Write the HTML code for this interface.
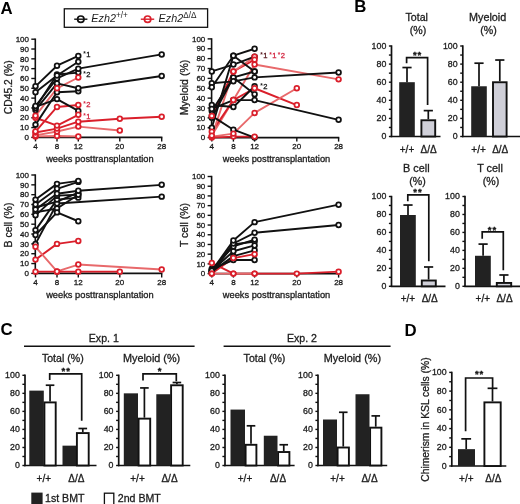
<!DOCTYPE html>
<html><head><meta charset="utf-8"><style>
html,body{margin:0;padding:0;background:#fff;width:520px;height:504px;overflow:hidden}
svg{display:block;font-family:"Liberation Sans", sans-serif;will-change:transform;filter:blur(0.3px)}
</style></head><body>
<svg width="520" height="504" viewBox="0 0 520 504">
<rect width="520" height="504" fill="#fff"/>
<text x="0.5" y="14.4" font-size="16.8" font-weight="bold" fill="#000">A</text>
<text x="354.3" y="12.0" font-size="16.8" font-weight="bold" fill="#000">B</text>
<text x="0.6" y="335.2" font-size="16.8" font-weight="bold" fill="#000">C</text>
<text x="404.6" y="335.6" font-size="16.8" font-weight="bold" fill="#000">D</text>
<line x1="35.3" y1="38.5" x2="35.3" y2="138.1" stroke="#111" stroke-width="1.6" />
<line x1="31.3" y1="137.4" x2="35.3" y2="137.4" stroke="#111" stroke-width="1.4" />
<text x="29" y="140.1" font-size="8" text-anchor="end" fill="#1c1c1c" stroke="#1c1c1c" stroke-width="0.3" >0</text>
<line x1="31.3" y1="127.58" x2="35.3" y2="127.58" stroke="#111" stroke-width="1.4" />
<text x="29" y="130.28" font-size="8" text-anchor="end" fill="#1c1c1c" stroke="#1c1c1c" stroke-width="0.3" >10</text>
<line x1="31.3" y1="117.76" x2="35.3" y2="117.76" stroke="#111" stroke-width="1.4" />
<text x="29" y="120.46" font-size="8" text-anchor="end" fill="#1c1c1c" stroke="#1c1c1c" stroke-width="0.3" >20</text>
<line x1="31.3" y1="107.94" x2="35.3" y2="107.94" stroke="#111" stroke-width="1.4" />
<text x="29" y="110.64" font-size="8" text-anchor="end" fill="#1c1c1c" stroke="#1c1c1c" stroke-width="0.3" >30</text>
<line x1="31.3" y1="98.12" x2="35.3" y2="98.12" stroke="#111" stroke-width="1.4" />
<text x="29" y="100.82" font-size="8" text-anchor="end" fill="#1c1c1c" stroke="#1c1c1c" stroke-width="0.3" >40</text>
<line x1="31.3" y1="88.3" x2="35.3" y2="88.3" stroke="#111" stroke-width="1.4" />
<text x="29" y="91" font-size="8" text-anchor="end" fill="#1c1c1c" stroke="#1c1c1c" stroke-width="0.3" >50</text>
<line x1="31.3" y1="78.48" x2="35.3" y2="78.48" stroke="#111" stroke-width="1.4" />
<text x="29" y="81.18" font-size="8" text-anchor="end" fill="#1c1c1c" stroke="#1c1c1c" stroke-width="0.3" >60</text>
<line x1="31.3" y1="68.66" x2="35.3" y2="68.66" stroke="#111" stroke-width="1.4" />
<text x="29" y="71.36" font-size="8" text-anchor="end" fill="#1c1c1c" stroke="#1c1c1c" stroke-width="0.3" >70</text>
<line x1="31.3" y1="58.84" x2="35.3" y2="58.84" stroke="#111" stroke-width="1.4" />
<text x="29" y="61.54" font-size="8" text-anchor="end" fill="#1c1c1c" stroke="#1c1c1c" stroke-width="0.3" >80</text>
<line x1="31.3" y1="49.02" x2="35.3" y2="49.02" stroke="#111" stroke-width="1.4" />
<text x="29" y="51.72" font-size="8" text-anchor="end" fill="#1c1c1c" stroke="#1c1c1c" stroke-width="0.3" >90</text>
<line x1="31.3" y1="39.2" x2="35.3" y2="39.2" stroke="#111" stroke-width="1.4" />
<text x="29" y="41.9" font-size="8" text-anchor="end" fill="#1c1c1c" stroke="#1c1c1c" stroke-width="0.3" >100</text>
<line x1="34.6" y1="137.4" x2="162.4" y2="137.4" stroke="#111" stroke-width="1.7" />
<line x1="35.5" y1="137.4" x2="35.5" y2="141.4" stroke="#111" stroke-width="1.4" />
<text x="35.5" y="148.7" font-size="8" text-anchor="middle" fill="#1c1c1c" stroke="#1c1c1c" stroke-width="0.3" >4</text>
<line x1="57" y1="137.4" x2="57" y2="141.4" stroke="#111" stroke-width="1.4" />
<text x="57" y="148.7" font-size="8" text-anchor="middle" fill="#1c1c1c" stroke="#1c1c1c" stroke-width="0.3" >8</text>
<line x1="78.3" y1="137.4" x2="78.3" y2="141.4" stroke="#111" stroke-width="1.4" />
<text x="78.3" y="148.7" font-size="8" text-anchor="middle" fill="#1c1c1c" stroke="#1c1c1c" stroke-width="0.3" >12</text>
<line x1="119.8" y1="137.4" x2="119.8" y2="141.4" stroke="#111" stroke-width="1.4" />
<text x="119.8" y="148.7" font-size="8" text-anchor="middle" fill="#1c1c1c" stroke="#1c1c1c" stroke-width="0.3" >20</text>
<line x1="161.7" y1="137.4" x2="161.7" y2="141.4" stroke="#111" stroke-width="1.4" />
<text x="161.7" y="148.7" font-size="8" text-anchor="middle" fill="#1c1c1c" stroke="#1c1c1c" stroke-width="0.3" >28</text>
<text x="99.9" y="161.8" font-size="9.3" text-anchor="middle" fill="#1c1c1c" stroke="#1c1c1c" stroke-width="0.3" >weeks posttransplantation</text>
<text transform="translate(12.2,87.3) rotate(-90)" font-size="10.3" text-anchor="middle" fill="#1c1c1c" stroke="#1c1c1c" stroke-width="0.3">CD45.2 (%)</text>
<path d="M35.5,115.8 L57,88.3 L78.3,77.5" fill="none" stroke="#e8696b" stroke-width="1.9" stroke-linejoin="round"/>
<path d="M35.5,131.51 L57,106.96 L78.3,104.99" fill="none" stroke="#da1f2b" stroke-width="1.9" stroke-linejoin="round"/>
<path d="M35.5,117.76 L57,125.62 L78.3,114.81" fill="none" stroke="#da1f2b" stroke-width="1.9" stroke-linejoin="round"/>
<path d="M35.5,132.49 L57,128.56 L78.3,121.69 L119.8,118.74 L161.7,116.78" fill="none" stroke="#da1f2b" stroke-width="1.9" stroke-linejoin="round"/>
<path d="M35.5,135.44 L57,131.51 L78.3,126.6 L119.8,130.53" fill="none" stroke="#e8696b" stroke-width="1.9" stroke-linejoin="round"/>
<path d="M35.5,136.42 L57,135.93 L78.3,136.42" fill="none" stroke="#e8696b" stroke-width="1.9" stroke-linejoin="round"/>
<path d="M35.5,86.34 L57,65.71 L78.3,55.89" fill="none" stroke="#111" stroke-width="1.9" stroke-linejoin="round"/>
<path d="M35.5,92.23 L57,75.53 L78.3,61.79" fill="none" stroke="#111" stroke-width="1.9" stroke-linejoin="round"/>
<path d="M35.5,105.98 L57,78.48 L78.3,68.66 L161.7,54.42" fill="none" stroke="#111" stroke-width="1.9" stroke-linejoin="round"/>
<path d="M35.5,107.94 L57,74.55 L78.3,72.59" fill="none" stroke="#111" stroke-width="1.9" stroke-linejoin="round"/>
<path d="M35.5,109.9 L57,83.39 L78.3,88.3 L161.7,76.03" fill="none" stroke="#111" stroke-width="1.9" stroke-linejoin="round"/>
<path d="M35.5,106.96 L57,99.1 L78.3,110.89" fill="none" stroke="#111" stroke-width="1.9" stroke-linejoin="round"/>
<path d="M35.5,124.63 L57,92.23 L78.3,91.25" fill="none" stroke="#111" stroke-width="1.9" stroke-linejoin="round"/>
<circle cx="35.5" cy="124.63" r="2.35" fill="#fff" stroke="#111" stroke-width="1.75"/>
<circle cx="57" cy="92.23" r="2.35" fill="#fff" stroke="#111" stroke-width="1.75"/>
<circle cx="78.3" cy="91.25" r="2.35" fill="#fff" stroke="#111" stroke-width="1.75"/>
<circle cx="35.5" cy="106.96" r="2.35" fill="#fff" stroke="#111" stroke-width="1.75"/>
<circle cx="57" cy="99.1" r="2.35" fill="#fff" stroke="#111" stroke-width="1.75"/>
<circle cx="78.3" cy="110.89" r="2.35" fill="#fff" stroke="#111" stroke-width="1.75"/>
<circle cx="35.5" cy="109.9" r="2.35" fill="#fff" stroke="#111" stroke-width="1.75"/>
<circle cx="57" cy="83.39" r="2.35" fill="#fff" stroke="#111" stroke-width="1.75"/>
<circle cx="78.3" cy="88.3" r="2.35" fill="#fff" stroke="#111" stroke-width="1.75"/>
<circle cx="161.7" cy="76.03" r="2.35" fill="#fff" stroke="#111" stroke-width="1.75"/>
<circle cx="35.5" cy="107.94" r="2.35" fill="#fff" stroke="#111" stroke-width="1.75"/>
<circle cx="57" cy="74.55" r="2.35" fill="#fff" stroke="#111" stroke-width="1.75"/>
<circle cx="78.3" cy="72.59" r="2.35" fill="#fff" stroke="#111" stroke-width="1.75"/>
<circle cx="35.5" cy="105.98" r="2.35" fill="#fff" stroke="#111" stroke-width="1.75"/>
<circle cx="57" cy="78.48" r="2.35" fill="#fff" stroke="#111" stroke-width="1.75"/>
<circle cx="78.3" cy="68.66" r="2.35" fill="#fff" stroke="#111" stroke-width="1.75"/>
<circle cx="161.7" cy="54.42" r="2.35" fill="#fff" stroke="#111" stroke-width="1.75"/>
<circle cx="35.5" cy="92.23" r="2.35" fill="#fff" stroke="#111" stroke-width="1.75"/>
<circle cx="57" cy="75.53" r="2.35" fill="#fff" stroke="#111" stroke-width="1.75"/>
<circle cx="78.3" cy="61.79" r="2.35" fill="#fff" stroke="#111" stroke-width="1.75"/>
<circle cx="35.5" cy="86.34" r="2.35" fill="#fff" stroke="#111" stroke-width="1.75"/>
<circle cx="57" cy="65.71" r="2.35" fill="#fff" stroke="#111" stroke-width="1.75"/>
<circle cx="78.3" cy="55.89" r="2.35" fill="#fff" stroke="#111" stroke-width="1.75"/>
<circle cx="35.5" cy="136.42" r="2.35" fill="#fff" stroke="#da1f2b" stroke-width="1.75"/>
<circle cx="57" cy="135.93" r="2.35" fill="#fff" stroke="#da1f2b" stroke-width="1.75"/>
<circle cx="78.3" cy="136.42" r="2.35" fill="#fff" stroke="#da1f2b" stroke-width="1.75"/>
<circle cx="35.5" cy="135.44" r="2.35" fill="#fff" stroke="#da1f2b" stroke-width="1.75"/>
<circle cx="57" cy="131.51" r="2.35" fill="#fff" stroke="#da1f2b" stroke-width="1.75"/>
<circle cx="78.3" cy="126.6" r="2.35" fill="#fff" stroke="#da1f2b" stroke-width="1.75"/>
<circle cx="119.8" cy="130.53" r="2.35" fill="#fff" stroke="#da1f2b" stroke-width="1.75"/>
<circle cx="35.5" cy="132.49" r="2.35" fill="#fff" stroke="#da1f2b" stroke-width="1.75"/>
<circle cx="57" cy="128.56" r="2.35" fill="#fff" stroke="#da1f2b" stroke-width="1.75"/>
<circle cx="78.3" cy="121.69" r="2.35" fill="#fff" stroke="#da1f2b" stroke-width="1.75"/>
<circle cx="119.8" cy="118.74" r="2.35" fill="#fff" stroke="#da1f2b" stroke-width="1.75"/>
<circle cx="161.7" cy="116.78" r="2.35" fill="#fff" stroke="#da1f2b" stroke-width="1.75"/>
<circle cx="35.5" cy="117.76" r="2.35" fill="#fff" stroke="#da1f2b" stroke-width="1.75"/>
<circle cx="57" cy="125.62" r="2.35" fill="#fff" stroke="#da1f2b" stroke-width="1.75"/>
<circle cx="78.3" cy="114.81" r="2.35" fill="#fff" stroke="#da1f2b" stroke-width="1.75"/>
<circle cx="35.5" cy="131.51" r="2.35" fill="#fff" stroke="#da1f2b" stroke-width="1.75"/>
<circle cx="57" cy="106.96" r="2.35" fill="#fff" stroke="#da1f2b" stroke-width="1.75"/>
<circle cx="78.3" cy="104.99" r="2.35" fill="#fff" stroke="#da1f2b" stroke-width="1.75"/>
<circle cx="35.5" cy="115.8" r="2.35" fill="#fff" stroke="#da1f2b" stroke-width="1.75"/>
<circle cx="57" cy="88.3" r="2.35" fill="#fff" stroke="#da1f2b" stroke-width="1.75"/>
<circle cx="78.3" cy="77.5" r="2.35" fill="#fff" stroke="#da1f2b" stroke-width="1.75"/>
<line x1="211.6" y1="38.2" x2="211.6" y2="138.3" stroke="#111" stroke-width="1.6" />
<line x1="207.6" y1="137.6" x2="211.6" y2="137.6" stroke="#111" stroke-width="1.4" />
<text x="205.3" y="140.3" font-size="8" text-anchor="end" fill="#1c1c1c" stroke="#1c1c1c" stroke-width="0.3" >0</text>
<line x1="207.6" y1="127.73" x2="211.6" y2="127.73" stroke="#111" stroke-width="1.4" />
<text x="205.3" y="130.43" font-size="8" text-anchor="end" fill="#1c1c1c" stroke="#1c1c1c" stroke-width="0.3" >10</text>
<line x1="207.6" y1="117.86" x2="211.6" y2="117.86" stroke="#111" stroke-width="1.4" />
<text x="205.3" y="120.56" font-size="8" text-anchor="end" fill="#1c1c1c" stroke="#1c1c1c" stroke-width="0.3" >20</text>
<line x1="207.6" y1="107.99" x2="211.6" y2="107.99" stroke="#111" stroke-width="1.4" />
<text x="205.3" y="110.69" font-size="8" text-anchor="end" fill="#1c1c1c" stroke="#1c1c1c" stroke-width="0.3" >30</text>
<line x1="207.6" y1="98.12" x2="211.6" y2="98.12" stroke="#111" stroke-width="1.4" />
<text x="205.3" y="100.82" font-size="8" text-anchor="end" fill="#1c1c1c" stroke="#1c1c1c" stroke-width="0.3" >40</text>
<line x1="207.6" y1="88.25" x2="211.6" y2="88.25" stroke="#111" stroke-width="1.4" />
<text x="205.3" y="90.95" font-size="8" text-anchor="end" fill="#1c1c1c" stroke="#1c1c1c" stroke-width="0.3" >50</text>
<line x1="207.6" y1="78.38" x2="211.6" y2="78.38" stroke="#111" stroke-width="1.4" />
<text x="205.3" y="81.08" font-size="8" text-anchor="end" fill="#1c1c1c" stroke="#1c1c1c" stroke-width="0.3" >60</text>
<line x1="207.6" y1="68.51" x2="211.6" y2="68.51" stroke="#111" stroke-width="1.4" />
<text x="205.3" y="71.21" font-size="8" text-anchor="end" fill="#1c1c1c" stroke="#1c1c1c" stroke-width="0.3" >70</text>
<line x1="207.6" y1="58.64" x2="211.6" y2="58.64" stroke="#111" stroke-width="1.4" />
<text x="205.3" y="61.34" font-size="8" text-anchor="end" fill="#1c1c1c" stroke="#1c1c1c" stroke-width="0.3" >80</text>
<line x1="207.6" y1="48.77" x2="211.6" y2="48.77" stroke="#111" stroke-width="1.4" />
<text x="205.3" y="51.47" font-size="8" text-anchor="end" fill="#1c1c1c" stroke="#1c1c1c" stroke-width="0.3" >90</text>
<line x1="207.6" y1="38.9" x2="211.6" y2="38.9" stroke="#111" stroke-width="1.4" />
<text x="205.3" y="41.6" font-size="8" text-anchor="end" fill="#1c1c1c" stroke="#1c1c1c" stroke-width="0.3" >100</text>
<line x1="210.9" y1="137.6" x2="339.3" y2="137.6" stroke="#111" stroke-width="1.7" />
<line x1="211.8" y1="137.6" x2="211.8" y2="141.6" stroke="#111" stroke-width="1.4" />
<text x="211.8" y="148.9" font-size="8" text-anchor="middle" fill="#1c1c1c" stroke="#1c1c1c" stroke-width="0.3" >4</text>
<line x1="233.4" y1="137.6" x2="233.4" y2="141.6" stroke="#111" stroke-width="1.4" />
<text x="233.4" y="148.9" font-size="8" text-anchor="middle" fill="#1c1c1c" stroke="#1c1c1c" stroke-width="0.3" >8</text>
<line x1="254.6" y1="137.6" x2="254.6" y2="141.6" stroke="#111" stroke-width="1.4" />
<text x="254.6" y="148.9" font-size="8" text-anchor="middle" fill="#1c1c1c" stroke="#1c1c1c" stroke-width="0.3" >12</text>
<line x1="296.8" y1="137.6" x2="296.8" y2="141.6" stroke="#111" stroke-width="1.4" />
<text x="296.8" y="148.9" font-size="8" text-anchor="middle" fill="#1c1c1c" stroke="#1c1c1c" stroke-width="0.3" >20</text>
<line x1="338.6" y1="137.6" x2="338.6" y2="141.6" stroke="#111" stroke-width="1.4" />
<text x="338.6" y="148.9" font-size="8" text-anchor="middle" fill="#1c1c1c" stroke="#1c1c1c" stroke-width="0.3" >28</text>
<text x="276.5" y="162" font-size="9.3" text-anchor="middle" fill="#1c1c1c" stroke="#1c1c1c" stroke-width="0.3" >weeks posttransplantation</text>
<text transform="translate(188.4,87.5) rotate(-90)" font-size="10.5" text-anchor="middle" fill="#1c1c1c" stroke="#1c1c1c" stroke-width="0.3">Myeloid (%)</text>
<path d="M211.8,115.89 L233.4,71.47 L254.6,59.63" fill="none" stroke="#da1f2b" stroke-width="1.9" stroke-linejoin="round"/>
<path d="M211.8,135.63 L233.4,100.09 L254.6,64.56 L338.6,79.37" fill="none" stroke="#e8696b" stroke-width="1.9" stroke-linejoin="round"/>
<path d="M211.8,131.68 L233.4,100.09 L254.6,88.25 L296.8,105.03" fill="none" stroke="#da1f2b" stroke-width="1.9" stroke-linejoin="round"/>
<path d="M211.8,136.61 L233.4,133.65 L254.6,112.92 L296.8,88.25" fill="none" stroke="#e8696b" stroke-width="1.9" stroke-linejoin="round"/>
<path d="M211.8,136.61 L233.4,71.47 L254.6,56.67" fill="none" stroke="#e8696b" stroke-width="1.9" stroke-linejoin="round"/>
<path d="M211.8,137.6 L233.4,136.61 L254.6,136.61" fill="none" stroke="#da1f2b" stroke-width="1.9" stroke-linejoin="round"/>
<path d="M211.8,71.47 L233.4,64.56 L254.6,56.67" fill="none" stroke="#111" stroke-width="1.9" stroke-linejoin="round"/>
<path d="M211.8,87.26 L233.4,55.68 L254.6,48.77" fill="none" stroke="#111" stroke-width="1.9" stroke-linejoin="round"/>
<path d="M211.8,83.31 L233.4,81.34 L254.6,77.39 L338.6,72.46" fill="none" stroke="#111" stroke-width="1.9" stroke-linejoin="round"/>
<path d="M211.8,127.73 L233.4,55.68 L254.6,71.47" fill="none" stroke="#111" stroke-width="1.9" stroke-linejoin="round"/>
<path d="M211.8,108.98 L233.4,100.09 L254.6,100.09 L338.6,119.83" fill="none" stroke="#111" stroke-width="1.9" stroke-linejoin="round"/>
<path d="M211.8,115.89 L233.4,129.7 L254.6,137.6" fill="none" stroke="#111" stroke-width="1.9" stroke-linejoin="round"/>
<path d="M211.8,117.86 L233.4,77.39 L254.6,94.17" fill="none" stroke="#111" stroke-width="1.9" stroke-linejoin="round"/>
<path d="M211.8,105.03 L233.4,107 L254.6,86.28" fill="none" stroke="#111" stroke-width="1.9" stroke-linejoin="round"/>
<path d="M211.8,110.95 L233.4,77.39 L254.6,71.47" fill="none" stroke="#111" stroke-width="1.9" stroke-linejoin="round"/>
<circle cx="211.8" cy="110.95" r="2.35" fill="#fff" stroke="#111" stroke-width="1.75"/>
<circle cx="233.4" cy="77.39" r="2.35" fill="#fff" stroke="#111" stroke-width="1.75"/>
<circle cx="254.6" cy="71.47" r="2.35" fill="#fff" stroke="#111" stroke-width="1.75"/>
<circle cx="211.8" cy="105.03" r="2.35" fill="#fff" stroke="#111" stroke-width="1.75"/>
<circle cx="233.4" cy="107" r="2.35" fill="#fff" stroke="#111" stroke-width="1.75"/>
<circle cx="254.6" cy="86.28" r="2.35" fill="#fff" stroke="#111" stroke-width="1.75"/>
<circle cx="211.8" cy="117.86" r="2.35" fill="#fff" stroke="#111" stroke-width="1.75"/>
<circle cx="233.4" cy="77.39" r="2.35" fill="#fff" stroke="#111" stroke-width="1.75"/>
<circle cx="254.6" cy="94.17" r="2.35" fill="#fff" stroke="#111" stroke-width="1.75"/>
<circle cx="211.8" cy="115.89" r="2.35" fill="#fff" stroke="#111" stroke-width="1.75"/>
<circle cx="233.4" cy="129.7" r="2.35" fill="#fff" stroke="#111" stroke-width="1.75"/>
<circle cx="254.6" cy="137.6" r="2.35" fill="#fff" stroke="#111" stroke-width="1.75"/>
<circle cx="211.8" cy="108.98" r="2.35" fill="#fff" stroke="#111" stroke-width="1.75"/>
<circle cx="233.4" cy="100.09" r="2.35" fill="#fff" stroke="#111" stroke-width="1.75"/>
<circle cx="254.6" cy="100.09" r="2.35" fill="#fff" stroke="#111" stroke-width="1.75"/>
<circle cx="338.6" cy="119.83" r="2.35" fill="#fff" stroke="#111" stroke-width="1.75"/>
<circle cx="211.8" cy="127.73" r="2.35" fill="#fff" stroke="#111" stroke-width="1.75"/>
<circle cx="233.4" cy="55.68" r="2.35" fill="#fff" stroke="#111" stroke-width="1.75"/>
<circle cx="254.6" cy="71.47" r="2.35" fill="#fff" stroke="#111" stroke-width="1.75"/>
<circle cx="211.8" cy="83.31" r="2.35" fill="#fff" stroke="#111" stroke-width="1.75"/>
<circle cx="233.4" cy="81.34" r="2.35" fill="#fff" stroke="#111" stroke-width="1.75"/>
<circle cx="254.6" cy="77.39" r="2.35" fill="#fff" stroke="#111" stroke-width="1.75"/>
<circle cx="338.6" cy="72.46" r="2.35" fill="#fff" stroke="#111" stroke-width="1.75"/>
<circle cx="211.8" cy="87.26" r="2.35" fill="#fff" stroke="#111" stroke-width="1.75"/>
<circle cx="233.4" cy="55.68" r="2.35" fill="#fff" stroke="#111" stroke-width="1.75"/>
<circle cx="254.6" cy="48.77" r="2.35" fill="#fff" stroke="#111" stroke-width="1.75"/>
<circle cx="211.8" cy="71.47" r="2.35" fill="#fff" stroke="#111" stroke-width="1.75"/>
<circle cx="233.4" cy="64.56" r="2.35" fill="#fff" stroke="#111" stroke-width="1.75"/>
<circle cx="254.6" cy="56.67" r="2.35" fill="#fff" stroke="#111" stroke-width="1.75"/>
<circle cx="211.8" cy="137.6" r="2.35" fill="#fff" stroke="#da1f2b" stroke-width="1.75"/>
<circle cx="233.4" cy="136.61" r="2.35" fill="#fff" stroke="#da1f2b" stroke-width="1.75"/>
<circle cx="254.6" cy="136.61" r="2.35" fill="#fff" stroke="#da1f2b" stroke-width="1.75"/>
<circle cx="211.8" cy="136.61" r="2.35" fill="#fff" stroke="#da1f2b" stroke-width="1.75"/>
<circle cx="233.4" cy="71.47" r="2.35" fill="#fff" stroke="#da1f2b" stroke-width="1.75"/>
<circle cx="254.6" cy="56.67" r="2.35" fill="#fff" stroke="#da1f2b" stroke-width="1.75"/>
<circle cx="211.8" cy="136.61" r="2.35" fill="#fff" stroke="#da1f2b" stroke-width="1.75"/>
<circle cx="233.4" cy="133.65" r="2.35" fill="#fff" stroke="#da1f2b" stroke-width="1.75"/>
<circle cx="254.6" cy="112.92" r="2.35" fill="#fff" stroke="#da1f2b" stroke-width="1.75"/>
<circle cx="296.8" cy="88.25" r="2.35" fill="#fff" stroke="#da1f2b" stroke-width="1.75"/>
<circle cx="211.8" cy="131.68" r="2.35" fill="#fff" stroke="#da1f2b" stroke-width="1.75"/>
<circle cx="233.4" cy="100.09" r="2.35" fill="#fff" stroke="#da1f2b" stroke-width="1.75"/>
<circle cx="254.6" cy="88.25" r="2.35" fill="#fff" stroke="#da1f2b" stroke-width="1.75"/>
<circle cx="296.8" cy="105.03" r="2.35" fill="#fff" stroke="#da1f2b" stroke-width="1.75"/>
<circle cx="211.8" cy="135.63" r="2.35" fill="#fff" stroke="#da1f2b" stroke-width="1.75"/>
<circle cx="233.4" cy="100.09" r="2.35" fill="#fff" stroke="#da1f2b" stroke-width="1.75"/>
<circle cx="254.6" cy="64.56" r="2.35" fill="#fff" stroke="#da1f2b" stroke-width="1.75"/>
<circle cx="338.6" cy="79.37" r="2.35" fill="#fff" stroke="#da1f2b" stroke-width="1.75"/>
<circle cx="211.8" cy="115.89" r="2.35" fill="#fff" stroke="#da1f2b" stroke-width="1.75"/>
<circle cx="233.4" cy="71.47" r="2.35" fill="#fff" stroke="#da1f2b" stroke-width="1.75"/>
<circle cx="254.6" cy="59.63" r="2.35" fill="#fff" stroke="#da1f2b" stroke-width="1.75"/>
<line x1="35.3" y1="174.3" x2="35.3" y2="274.1" stroke="#111" stroke-width="1.6" />
<line x1="31.3" y1="273.4" x2="35.3" y2="273.4" stroke="#111" stroke-width="1.4" />
<text x="29" y="276.1" font-size="8" text-anchor="end" fill="#1c1c1c" stroke="#1c1c1c" stroke-width="0.3" >0</text>
<line x1="31.3" y1="263.56" x2="35.3" y2="263.56" stroke="#111" stroke-width="1.4" />
<text x="29" y="266.26" font-size="8" text-anchor="end" fill="#1c1c1c" stroke="#1c1c1c" stroke-width="0.3" >10</text>
<line x1="31.3" y1="253.72" x2="35.3" y2="253.72" stroke="#111" stroke-width="1.4" />
<text x="29" y="256.42" font-size="8" text-anchor="end" fill="#1c1c1c" stroke="#1c1c1c" stroke-width="0.3" >20</text>
<line x1="31.3" y1="243.88" x2="35.3" y2="243.88" stroke="#111" stroke-width="1.4" />
<text x="29" y="246.58" font-size="8" text-anchor="end" fill="#1c1c1c" stroke="#1c1c1c" stroke-width="0.3" >30</text>
<line x1="31.3" y1="234.04" x2="35.3" y2="234.04" stroke="#111" stroke-width="1.4" />
<text x="29" y="236.74" font-size="8" text-anchor="end" fill="#1c1c1c" stroke="#1c1c1c" stroke-width="0.3" >40</text>
<line x1="31.3" y1="224.2" x2="35.3" y2="224.2" stroke="#111" stroke-width="1.4" />
<text x="29" y="226.9" font-size="8" text-anchor="end" fill="#1c1c1c" stroke="#1c1c1c" stroke-width="0.3" >50</text>
<line x1="31.3" y1="214.36" x2="35.3" y2="214.36" stroke="#111" stroke-width="1.4" />
<text x="29" y="217.06" font-size="8" text-anchor="end" fill="#1c1c1c" stroke="#1c1c1c" stroke-width="0.3" >60</text>
<line x1="31.3" y1="204.52" x2="35.3" y2="204.52" stroke="#111" stroke-width="1.4" />
<text x="29" y="207.22" font-size="8" text-anchor="end" fill="#1c1c1c" stroke="#1c1c1c" stroke-width="0.3" >70</text>
<line x1="31.3" y1="194.68" x2="35.3" y2="194.68" stroke="#111" stroke-width="1.4" />
<text x="29" y="197.38" font-size="8" text-anchor="end" fill="#1c1c1c" stroke="#1c1c1c" stroke-width="0.3" >80</text>
<line x1="31.3" y1="184.84" x2="35.3" y2="184.84" stroke="#111" stroke-width="1.4" />
<text x="29" y="187.54" font-size="8" text-anchor="end" fill="#1c1c1c" stroke="#1c1c1c" stroke-width="0.3" >90</text>
<line x1="31.3" y1="175" x2="35.3" y2="175" stroke="#111" stroke-width="1.4" />
<text x="29" y="177.7" font-size="8" text-anchor="end" fill="#1c1c1c" stroke="#1c1c1c" stroke-width="0.3" >100</text>
<line x1="34.6" y1="273.4" x2="162.4" y2="273.4" stroke="#111" stroke-width="1.7" />
<line x1="35.5" y1="273.4" x2="35.5" y2="277.4" stroke="#111" stroke-width="1.4" />
<text x="35.5" y="284.7" font-size="8" text-anchor="middle" fill="#1c1c1c" stroke="#1c1c1c" stroke-width="0.3" >4</text>
<line x1="57" y1="273.4" x2="57" y2="277.4" stroke="#111" stroke-width="1.4" />
<text x="57" y="284.7" font-size="8" text-anchor="middle" fill="#1c1c1c" stroke="#1c1c1c" stroke-width="0.3" >8</text>
<line x1="78.3" y1="273.4" x2="78.3" y2="277.4" stroke="#111" stroke-width="1.4" />
<text x="78.3" y="284.7" font-size="8" text-anchor="middle" fill="#1c1c1c" stroke="#1c1c1c" stroke-width="0.3" >12</text>
<line x1="119.8" y1="273.4" x2="119.8" y2="277.4" stroke="#111" stroke-width="1.4" />
<text x="119.8" y="284.7" font-size="8" text-anchor="middle" fill="#1c1c1c" stroke="#1c1c1c" stroke-width="0.3" >20</text>
<line x1="161.7" y1="273.4" x2="161.7" y2="277.4" stroke="#111" stroke-width="1.4" />
<text x="161.7" y="284.7" font-size="8" text-anchor="middle" fill="#1c1c1c" stroke="#1c1c1c" stroke-width="0.3" >28</text>
<text x="99.9" y="297.8" font-size="9.3" text-anchor="middle" fill="#1c1c1c" stroke="#1c1c1c" stroke-width="0.3" >weeks posttransplantation</text>
<text transform="translate(12,225) rotate(-90)" font-size="10.5" text-anchor="middle" fill="#1c1c1c" stroke="#1c1c1c" stroke-width="0.3">B cell (%)</text>
<path d="M35.5,259.62 L57,243.88 L78.3,240.93" fill="none" stroke="#da1f2b" stroke-width="1.9" stroke-linejoin="round"/>
<path d="M35.5,246.83 L57,271.43 L78.3,264.54 L161.7,269.46" fill="none" stroke="#e8696b" stroke-width="1.9" stroke-linejoin="round"/>
<path d="M35.5,271.63 L57,271.63 L78.3,271.63 L119.8,271.63" fill="none" stroke="#da1f2b" stroke-width="1.9" stroke-linejoin="round"/>
<path d="M35.5,199.6 L57,183.86 L78.3,180.9" fill="none" stroke="#111" stroke-width="1.9" stroke-linejoin="round"/>
<path d="M35.5,204.52 L57,188.78 L78.3,181.89" fill="none" stroke="#111" stroke-width="1.9" stroke-linejoin="round"/>
<path d="M35.5,209.44 L57,193.7 L78.3,190.74 L161.7,184.84" fill="none" stroke="#111" stroke-width="1.9" stroke-linejoin="round"/>
<path d="M35.5,215.34 L57,195.66 L78.3,194.68" fill="none" stroke="#111" stroke-width="1.9" stroke-linejoin="round"/>
<path d="M35.5,230.1 L57,199.6 L78.3,197.63" fill="none" stroke="#111" stroke-width="1.9" stroke-linejoin="round"/>
<path d="M35.5,235.02 L57,212.39 L78.3,221.25" fill="none" stroke="#111" stroke-width="1.9" stroke-linejoin="round"/>
<path d="M35.5,243.88 L57,203.54 L161.7,196.65" fill="none" stroke="#111" stroke-width="1.9" stroke-linejoin="round"/>
<path d="M35.5,207.47 L57,201.57 L78.3,192.71" fill="none" stroke="#111" stroke-width="1.9" stroke-linejoin="round"/>
<path d="M35.5,212.39 L57,208.46 L78.3,194.68" fill="none" stroke="#111" stroke-width="1.9" stroke-linejoin="round"/>
<circle cx="35.5" cy="212.39" r="2.35" fill="#fff" stroke="#111" stroke-width="1.75"/>
<circle cx="57" cy="208.46" r="2.35" fill="#fff" stroke="#111" stroke-width="1.75"/>
<circle cx="78.3" cy="194.68" r="2.35" fill="#fff" stroke="#111" stroke-width="1.75"/>
<circle cx="35.5" cy="207.47" r="2.35" fill="#fff" stroke="#111" stroke-width="1.75"/>
<circle cx="57" cy="201.57" r="2.35" fill="#fff" stroke="#111" stroke-width="1.75"/>
<circle cx="78.3" cy="192.71" r="2.35" fill="#fff" stroke="#111" stroke-width="1.75"/>
<circle cx="35.5" cy="243.88" r="2.35" fill="#fff" stroke="#111" stroke-width="1.75"/>
<circle cx="57" cy="203.54" r="2.35" fill="#fff" stroke="#111" stroke-width="1.75"/>
<circle cx="161.7" cy="196.65" r="2.35" fill="#fff" stroke="#111" stroke-width="1.75"/>
<circle cx="35.5" cy="235.02" r="2.35" fill="#fff" stroke="#111" stroke-width="1.75"/>
<circle cx="57" cy="212.39" r="2.35" fill="#fff" stroke="#111" stroke-width="1.75"/>
<circle cx="78.3" cy="221.25" r="2.35" fill="#fff" stroke="#111" stroke-width="1.75"/>
<circle cx="35.5" cy="230.1" r="2.35" fill="#fff" stroke="#111" stroke-width="1.75"/>
<circle cx="57" cy="199.6" r="2.35" fill="#fff" stroke="#111" stroke-width="1.75"/>
<circle cx="78.3" cy="197.63" r="2.35" fill="#fff" stroke="#111" stroke-width="1.75"/>
<circle cx="35.5" cy="215.34" r="2.35" fill="#fff" stroke="#111" stroke-width="1.75"/>
<circle cx="57" cy="195.66" r="2.35" fill="#fff" stroke="#111" stroke-width="1.75"/>
<circle cx="78.3" cy="194.68" r="2.35" fill="#fff" stroke="#111" stroke-width="1.75"/>
<circle cx="35.5" cy="209.44" r="2.35" fill="#fff" stroke="#111" stroke-width="1.75"/>
<circle cx="57" cy="193.7" r="2.35" fill="#fff" stroke="#111" stroke-width="1.75"/>
<circle cx="78.3" cy="190.74" r="2.35" fill="#fff" stroke="#111" stroke-width="1.75"/>
<circle cx="161.7" cy="184.84" r="2.35" fill="#fff" stroke="#111" stroke-width="1.75"/>
<circle cx="35.5" cy="204.52" r="2.35" fill="#fff" stroke="#111" stroke-width="1.75"/>
<circle cx="57" cy="188.78" r="2.35" fill="#fff" stroke="#111" stroke-width="1.75"/>
<circle cx="78.3" cy="181.89" r="2.35" fill="#fff" stroke="#111" stroke-width="1.75"/>
<circle cx="35.5" cy="199.6" r="2.35" fill="#fff" stroke="#111" stroke-width="1.75"/>
<circle cx="57" cy="183.86" r="2.35" fill="#fff" stroke="#111" stroke-width="1.75"/>
<circle cx="78.3" cy="180.9" r="2.35" fill="#fff" stroke="#111" stroke-width="1.75"/>
<circle cx="35.5" cy="271.63" r="2.35" fill="#fff" stroke="#da1f2b" stroke-width="1.75"/>
<circle cx="57" cy="271.63" r="2.35" fill="#fff" stroke="#da1f2b" stroke-width="1.75"/>
<circle cx="78.3" cy="271.63" r="2.35" fill="#fff" stroke="#da1f2b" stroke-width="1.75"/>
<circle cx="119.8" cy="271.63" r="2.35" fill="#fff" stroke="#da1f2b" stroke-width="1.75"/>
<circle cx="35.5" cy="246.83" r="2.35" fill="#fff" stroke="#da1f2b" stroke-width="1.75"/>
<circle cx="57" cy="271.43" r="2.35" fill="#fff" stroke="#da1f2b" stroke-width="1.75"/>
<circle cx="78.3" cy="264.54" r="2.35" fill="#fff" stroke="#da1f2b" stroke-width="1.75"/>
<circle cx="161.7" cy="269.46" r="2.35" fill="#fff" stroke="#da1f2b" stroke-width="1.75"/>
<circle cx="35.5" cy="259.62" r="2.35" fill="#fff" stroke="#da1f2b" stroke-width="1.75"/>
<circle cx="57" cy="243.88" r="2.35" fill="#fff" stroke="#da1f2b" stroke-width="1.75"/>
<circle cx="78.3" cy="240.93" r="2.35" fill="#fff" stroke="#da1f2b" stroke-width="1.75"/>
<line x1="211.6" y1="175.8" x2="211.6" y2="274.3" stroke="#111" stroke-width="1.6" />
<line x1="207.6" y1="273.6" x2="211.6" y2="273.6" stroke="#111" stroke-width="1.4" />
<text x="205.3" y="276.3" font-size="8" text-anchor="end" fill="#1c1c1c" stroke="#1c1c1c" stroke-width="0.3" >0</text>
<line x1="207.6" y1="263.89" x2="211.6" y2="263.89" stroke="#111" stroke-width="1.4" />
<text x="205.3" y="266.59" font-size="8" text-anchor="end" fill="#1c1c1c" stroke="#1c1c1c" stroke-width="0.3" >10</text>
<line x1="207.6" y1="254.18" x2="211.6" y2="254.18" stroke="#111" stroke-width="1.4" />
<text x="205.3" y="256.88" font-size="8" text-anchor="end" fill="#1c1c1c" stroke="#1c1c1c" stroke-width="0.3" >20</text>
<line x1="207.6" y1="244.47" x2="211.6" y2="244.47" stroke="#111" stroke-width="1.4" />
<text x="205.3" y="247.17" font-size="8" text-anchor="end" fill="#1c1c1c" stroke="#1c1c1c" stroke-width="0.3" >30</text>
<line x1="207.6" y1="234.76" x2="211.6" y2="234.76" stroke="#111" stroke-width="1.4" />
<text x="205.3" y="237.46" font-size="8" text-anchor="end" fill="#1c1c1c" stroke="#1c1c1c" stroke-width="0.3" >40</text>
<line x1="207.6" y1="225.05" x2="211.6" y2="225.05" stroke="#111" stroke-width="1.4" />
<text x="205.3" y="227.75" font-size="8" text-anchor="end" fill="#1c1c1c" stroke="#1c1c1c" stroke-width="0.3" >50</text>
<line x1="207.6" y1="215.34" x2="211.6" y2="215.34" stroke="#111" stroke-width="1.4" />
<text x="205.3" y="218.04" font-size="8" text-anchor="end" fill="#1c1c1c" stroke="#1c1c1c" stroke-width="0.3" >60</text>
<line x1="207.6" y1="205.63" x2="211.6" y2="205.63" stroke="#111" stroke-width="1.4" />
<text x="205.3" y="208.33" font-size="8" text-anchor="end" fill="#1c1c1c" stroke="#1c1c1c" stroke-width="0.3" >70</text>
<line x1="207.6" y1="195.92" x2="211.6" y2="195.92" stroke="#111" stroke-width="1.4" />
<text x="205.3" y="198.62" font-size="8" text-anchor="end" fill="#1c1c1c" stroke="#1c1c1c" stroke-width="0.3" >80</text>
<line x1="207.6" y1="186.21" x2="211.6" y2="186.21" stroke="#111" stroke-width="1.4" />
<text x="205.3" y="188.91" font-size="8" text-anchor="end" fill="#1c1c1c" stroke="#1c1c1c" stroke-width="0.3" >90</text>
<line x1="207.6" y1="176.5" x2="211.6" y2="176.5" stroke="#111" stroke-width="1.4" />
<text x="205.3" y="179.2" font-size="8" text-anchor="end" fill="#1c1c1c" stroke="#1c1c1c" stroke-width="0.3" >100</text>
<line x1="210.9" y1="273.6" x2="339.3" y2="273.6" stroke="#111" stroke-width="1.7" />
<line x1="211.8" y1="273.6" x2="211.8" y2="277.6" stroke="#111" stroke-width="1.4" />
<text x="211.8" y="284.9" font-size="8" text-anchor="middle" fill="#1c1c1c" stroke="#1c1c1c" stroke-width="0.3" >4</text>
<line x1="233.4" y1="273.6" x2="233.4" y2="277.6" stroke="#111" stroke-width="1.4" />
<text x="233.4" y="284.9" font-size="8" text-anchor="middle" fill="#1c1c1c" stroke="#1c1c1c" stroke-width="0.3" >8</text>
<line x1="254.6" y1="273.6" x2="254.6" y2="277.6" stroke="#111" stroke-width="1.4" />
<text x="254.6" y="284.9" font-size="8" text-anchor="middle" fill="#1c1c1c" stroke="#1c1c1c" stroke-width="0.3" >12</text>
<line x1="296.8" y1="273.6" x2="296.8" y2="277.6" stroke="#111" stroke-width="1.4" />
<text x="296.8" y="284.9" font-size="8" text-anchor="middle" fill="#1c1c1c" stroke="#1c1c1c" stroke-width="0.3" >20</text>
<line x1="338.6" y1="273.6" x2="338.6" y2="277.6" stroke="#111" stroke-width="1.4" />
<text x="338.6" y="284.9" font-size="8" text-anchor="middle" fill="#1c1c1c" stroke="#1c1c1c" stroke-width="0.3" >28</text>
<text x="276.5" y="298" font-size="9.3" text-anchor="middle" fill="#1c1c1c" stroke="#1c1c1c" stroke-width="0.3" >weeks posttransplantation</text>
<text transform="translate(188.2,225) rotate(-90)" font-size="10.5" text-anchor="middle" fill="#1c1c1c" stroke="#1c1c1c" stroke-width="0.3">T cell (%)</text>
<path d="M211.8,262.92 L233.4,273.6 L254.6,273.6 L296.8,273.6 L338.6,271.66" fill="none" stroke="#da1f2b" stroke-width="1.9" stroke-linejoin="round"/>
<path d="M211.8,273.6 L233.4,258.06 L254.6,254.18" fill="none" stroke="#da1f2b" stroke-width="1.9" stroke-linejoin="round"/>
<path d="M211.8,273.6 L233.4,273.6 L254.6,273.6" fill="none" stroke="#e8696b" stroke-width="1.9" stroke-linejoin="round"/>
<path d="M211.8,270.69 L233.4,240.59 L254.6,222.14 L338.6,204.66" fill="none" stroke="#111" stroke-width="1.9" stroke-linejoin="round"/>
<path d="M211.8,271.66 L233.4,243.5 L254.6,232.82 L338.6,225.05" fill="none" stroke="#111" stroke-width="1.9" stroke-linejoin="round"/>
<path d="M211.8,269.72 L233.4,246.41 L254.6,239.62" fill="none" stroke="#111" stroke-width="1.9" stroke-linejoin="round"/>
<path d="M211.8,270.69 L233.4,251.27 L254.6,245.44" fill="none" stroke="#111" stroke-width="1.9" stroke-linejoin="round"/>
<path d="M211.8,271.66 L233.4,256.12 L254.6,250.3" fill="none" stroke="#111" stroke-width="1.9" stroke-linejoin="round"/>
<path d="M211.8,268.75 L233.4,260.01 L254.6,260.01" fill="none" stroke="#111" stroke-width="1.9" stroke-linejoin="round"/>
<path d="M211.8,272.63 L233.4,244.47 L254.6,241.56" fill="none" stroke="#111" stroke-width="1.9" stroke-linejoin="round"/>
<circle cx="211.8" cy="272.63" r="2.35" fill="#fff" stroke="#111" stroke-width="1.75"/>
<circle cx="233.4" cy="244.47" r="2.35" fill="#fff" stroke="#111" stroke-width="1.75"/>
<circle cx="254.6" cy="241.56" r="2.35" fill="#fff" stroke="#111" stroke-width="1.75"/>
<circle cx="211.8" cy="268.75" r="2.35" fill="#fff" stroke="#111" stroke-width="1.75"/>
<circle cx="233.4" cy="260.01" r="2.35" fill="#fff" stroke="#111" stroke-width="1.75"/>
<circle cx="254.6" cy="260.01" r="2.35" fill="#fff" stroke="#111" stroke-width="1.75"/>
<circle cx="211.8" cy="271.66" r="2.35" fill="#fff" stroke="#111" stroke-width="1.75"/>
<circle cx="233.4" cy="256.12" r="2.35" fill="#fff" stroke="#111" stroke-width="1.75"/>
<circle cx="254.6" cy="250.3" r="2.35" fill="#fff" stroke="#111" stroke-width="1.75"/>
<circle cx="211.8" cy="270.69" r="2.35" fill="#fff" stroke="#111" stroke-width="1.75"/>
<circle cx="233.4" cy="251.27" r="2.35" fill="#fff" stroke="#111" stroke-width="1.75"/>
<circle cx="254.6" cy="245.44" r="2.35" fill="#fff" stroke="#111" stroke-width="1.75"/>
<circle cx="211.8" cy="269.72" r="2.35" fill="#fff" stroke="#111" stroke-width="1.75"/>
<circle cx="233.4" cy="246.41" r="2.35" fill="#fff" stroke="#111" stroke-width="1.75"/>
<circle cx="254.6" cy="239.62" r="2.35" fill="#fff" stroke="#111" stroke-width="1.75"/>
<circle cx="211.8" cy="271.66" r="2.35" fill="#fff" stroke="#111" stroke-width="1.75"/>
<circle cx="233.4" cy="243.5" r="2.35" fill="#fff" stroke="#111" stroke-width="1.75"/>
<circle cx="254.6" cy="232.82" r="2.35" fill="#fff" stroke="#111" stroke-width="1.75"/>
<circle cx="338.6" cy="225.05" r="2.35" fill="#fff" stroke="#111" stroke-width="1.75"/>
<circle cx="211.8" cy="270.69" r="2.35" fill="#fff" stroke="#111" stroke-width="1.75"/>
<circle cx="233.4" cy="240.59" r="2.35" fill="#fff" stroke="#111" stroke-width="1.75"/>
<circle cx="254.6" cy="222.14" r="2.35" fill="#fff" stroke="#111" stroke-width="1.75"/>
<circle cx="338.6" cy="204.66" r="2.35" fill="#fff" stroke="#111" stroke-width="1.75"/>
<circle cx="211.8" cy="273.6" r="2.35" fill="#fff" stroke="#da1f2b" stroke-width="1.75"/>
<circle cx="233.4" cy="273.6" r="2.35" fill="#fff" stroke="#da1f2b" stroke-width="1.75"/>
<circle cx="254.6" cy="273.6" r="2.35" fill="#fff" stroke="#da1f2b" stroke-width="1.75"/>
<circle cx="211.8" cy="273.6" r="2.35" fill="#fff" stroke="#da1f2b" stroke-width="1.75"/>
<circle cx="233.4" cy="258.06" r="2.35" fill="#fff" stroke="#da1f2b" stroke-width="1.75"/>
<circle cx="254.6" cy="254.18" r="2.35" fill="#fff" stroke="#da1f2b" stroke-width="1.75"/>
<circle cx="211.8" cy="262.92" r="2.35" fill="#fff" stroke="#da1f2b" stroke-width="1.75"/>
<circle cx="233.4" cy="273.6" r="2.35" fill="#fff" stroke="#da1f2b" stroke-width="1.75"/>
<circle cx="254.6" cy="273.6" r="2.35" fill="#fff" stroke="#da1f2b" stroke-width="1.75"/>
<circle cx="296.8" cy="273.6" r="2.35" fill="#fff" stroke="#da1f2b" stroke-width="1.75"/>
<circle cx="338.6" cy="271.66" r="2.35" fill="#fff" stroke="#da1f2b" stroke-width="1.75"/>
<text x="83.2" y="55.6" font-size="6.5" font-weight="bold" fill="#1c1c1c">*</text>
<text x="86.2" y="56.6" font-size="7.6" fill="#1c1c1c" stroke="#1c1c1c" stroke-width="0.3">1</text>
<text x="83.2" y="75.9" font-size="6.5" font-weight="bold" fill="#1c1c1c">*</text>
<text x="86.2" y="76.9" font-size="7.6" fill="#1c1c1c" stroke="#1c1c1c" stroke-width="0.3">2</text>
<text x="83.2" y="106.4" font-size="6.5" font-weight="bold" fill="#d42a44">*</text>
<text x="86.2" y="107.4" font-size="7.6" fill="#d42a44" stroke="#d42a44" stroke-width="0.3">2</text>
<text x="83.2" y="117.5" font-size="6.5" font-weight="bold" fill="#d42a44">*</text>
<text x="86.2" y="118.5" font-size="7.6" fill="#d42a44" stroke="#d42a44" stroke-width="0.3">1</text>
<text x="260.3" y="56.9" font-size="6.5" font-weight="bold" fill="#5a1a22">*</text>
<text x="263.3" y="57.9" font-size="7.6" fill="#5a1a22" stroke="#5a1a22" stroke-width="0.3">1</text>
<text x="269.2" y="56.9" font-size="6.5" font-weight="bold" fill="#d42a44">*</text>
<text x="272.2" y="57.9" font-size="7.6" fill="#d42a44" stroke="#d42a44" stroke-width="0.3">1</text>
<text x="277.7" y="56.9" font-size="6.5" font-weight="bold" fill="#d42a44">*</text>
<text x="280.7" y="57.9" font-size="7.6" fill="#d42a44" stroke="#d42a44" stroke-width="0.3">2</text>
<text x="260.3" y="88.1" font-size="6.5" font-weight="bold" fill="#1c1c1c">*</text>
<text x="263.3" y="89.1" font-size="7.6" fill="#1c1c1c" stroke="#1c1c1c" stroke-width="0.3">2</text>
<rect x="64.3" y="8.8" width="143.3" height="18.5" fill="#fff" stroke="#111" stroke-width="1.3"/>
<line x1="74.2" y1="19.2" x2="87.4" y2="19.2" stroke="#111" stroke-width="1.4" />
<circle cx="80.8" cy="19.2" r="3.2" fill="none" stroke="#111" stroke-width="1.7"/>
<line x1="140.8" y1="19.2" x2="154.2" y2="19.2" stroke="#da1f2b" stroke-width="1.4" />
<circle cx="147.6" cy="19.2" r="3.2" fill="none" stroke="#da1f2b" stroke-width="1.7"/>
<text x="91.3" y="22.3" font-size="10.8" font-style="italic" fill="#1c1c1c">Ezh2<tspan font-size="8.2" dy="-4.2" font-style="normal">+/+</tspan></text>
<text x="158.6" y="22.3" font-size="10.8" font-style="italic" fill="#1c1c1c">Ezh2<tspan font-size="8.2" dy="-4.2" font-style="normal">Δ/Δ</tspan></text>
<line x1="391.5" y1="45.3" x2="391.5" y2="137.2" stroke="#111" stroke-width="1.7" />
<line x1="390.7" y1="136.5" x2="440.5" y2="136.5" stroke="#111" stroke-width="1.7" />
<line x1="388.9" y1="136.5" x2="391.5" y2="136.5" stroke="#111" stroke-width="1.4" />
<text x="386.3" y="139.4" font-size="8.8" text-anchor="end" fill="#1c1c1c" stroke="#1c1c1c" stroke-width="0.3" >0</text>
<line x1="388.9" y1="127.45" x2="391.5" y2="127.45" stroke="#111" stroke-width="1.4" />
<line x1="388.9" y1="118.4" x2="391.5" y2="118.4" stroke="#111" stroke-width="1.4" />
<text x="386.3" y="121.3" font-size="8.8" text-anchor="end" fill="#1c1c1c" stroke="#1c1c1c" stroke-width="0.3" >20</text>
<line x1="388.9" y1="109.35" x2="391.5" y2="109.35" stroke="#111" stroke-width="1.4" />
<line x1="388.9" y1="100.3" x2="391.5" y2="100.3" stroke="#111" stroke-width="1.4" />
<text x="386.3" y="103.2" font-size="8.8" text-anchor="end" fill="#1c1c1c" stroke="#1c1c1c" stroke-width="0.3" >40</text>
<line x1="388.9" y1="91.25" x2="391.5" y2="91.25" stroke="#111" stroke-width="1.4" />
<line x1="388.9" y1="82.2" x2="391.5" y2="82.2" stroke="#111" stroke-width="1.4" />
<text x="386.3" y="85.1" font-size="8.8" text-anchor="end" fill="#1c1c1c" stroke="#1c1c1c" stroke-width="0.3" >60</text>
<line x1="388.9" y1="73.15" x2="391.5" y2="73.15" stroke="#111" stroke-width="1.4" />
<line x1="388.9" y1="64.1" x2="391.5" y2="64.1" stroke="#111" stroke-width="1.4" />
<text x="386.3" y="67" font-size="8.8" text-anchor="end" fill="#1c1c1c" stroke="#1c1c1c" stroke-width="0.3" >80</text>
<line x1="388.9" y1="55.05" x2="391.5" y2="55.05" stroke="#111" stroke-width="1.4" />
<line x1="388.9" y1="46" x2="391.5" y2="46" stroke="#111" stroke-width="1.4" />
<text x="386.3" y="48.9" font-size="8.8" text-anchor="end" fill="#1c1c1c" stroke="#1c1c1c" stroke-width="0.3" >100</text>
<rect x="399.2" y="82.2" width="15.6" height="54.3" fill="#222" stroke="none" stroke-width="0"/>
<rect x="421.4" y="120.26" width="13.8" height="16.24" fill="#cfcfd8" stroke="#111" stroke-width="1.9"/>
<line x1="407" y1="82.2" x2="407" y2="67.54" stroke="#111" stroke-width="1.7" />
<line x1="402.4" y1="67.54" x2="411.6" y2="67.54" stroke="#111" stroke-width="1.7" />
<line x1="428.3" y1="119.31" x2="428.3" y2="110.62" stroke="#111" stroke-width="1.7" />
<line x1="423.7" y1="110.62" x2="432.9" y2="110.62" stroke="#111" stroke-width="1.7" />
<path d="M406.6,63.2 L406.6,57.7 L427.6,57.7 L427.6,105" fill="none" stroke="#111" stroke-width="1.7"/>
<text x="417.6" y="57.9" font-size="9.5" text-anchor="middle" fill="#111" stroke="#111" stroke-width="0.3" font-weight="bold" letter-spacing="1">**</text>
<text x="416.7" y="21.4" font-size="10.6" text-anchor="middle" fill="#1c1c1c" stroke="#1c1c1c" stroke-width="0.3" >Total</text>
<text x="418" y="34.4" font-size="10.6" text-anchor="middle" fill="#1c1c1c" stroke="#1c1c1c" stroke-width="0.3" >(%)</text>
<text x="407" y="152.7" font-size="10" text-anchor="middle" fill="#1c1c1c" stroke="#1c1c1c" stroke-width="0.3" >+/+</text>
<text x="428.6" y="152.7" font-size="10" text-anchor="middle" fill="#1c1c1c" stroke="#1c1c1c" stroke-width="0.3" >Δ/Δ</text>
<line x1="462.8" y1="45.3" x2="462.8" y2="137.2" stroke="#111" stroke-width="1.7" />
<line x1="462" y1="136.5" x2="520.5" y2="136.5" stroke="#111" stroke-width="1.7" />
<line x1="460.2" y1="136.5" x2="462.8" y2="136.5" stroke="#111" stroke-width="1.4" />
<text x="457.6" y="139.4" font-size="8.8" text-anchor="end" fill="#1c1c1c" stroke="#1c1c1c" stroke-width="0.3" >0</text>
<line x1="460.2" y1="127.45" x2="462.8" y2="127.45" stroke="#111" stroke-width="1.4" />
<line x1="460.2" y1="118.4" x2="462.8" y2="118.4" stroke="#111" stroke-width="1.4" />
<text x="457.6" y="121.3" font-size="8.8" text-anchor="end" fill="#1c1c1c" stroke="#1c1c1c" stroke-width="0.3" >20</text>
<line x1="460.2" y1="109.35" x2="462.8" y2="109.35" stroke="#111" stroke-width="1.4" />
<line x1="460.2" y1="100.3" x2="462.8" y2="100.3" stroke="#111" stroke-width="1.4" />
<text x="457.6" y="103.2" font-size="8.8" text-anchor="end" fill="#1c1c1c" stroke="#1c1c1c" stroke-width="0.3" >40</text>
<line x1="460.2" y1="91.25" x2="462.8" y2="91.25" stroke="#111" stroke-width="1.4" />
<line x1="460.2" y1="82.2" x2="462.8" y2="82.2" stroke="#111" stroke-width="1.4" />
<text x="457.6" y="85.1" font-size="8.8" text-anchor="end" fill="#1c1c1c" stroke="#1c1c1c" stroke-width="0.3" >60</text>
<line x1="460.2" y1="73.15" x2="462.8" y2="73.15" stroke="#111" stroke-width="1.4" />
<line x1="460.2" y1="64.1" x2="462.8" y2="64.1" stroke="#111" stroke-width="1.4" />
<text x="457.6" y="67" font-size="8.8" text-anchor="end" fill="#1c1c1c" stroke="#1c1c1c" stroke-width="0.3" >80</text>
<line x1="460.2" y1="55.05" x2="462.8" y2="55.05" stroke="#111" stroke-width="1.4" />
<line x1="460.2" y1="46" x2="462.8" y2="46" stroke="#111" stroke-width="1.4" />
<text x="457.6" y="48.9" font-size="8.8" text-anchor="end" fill="#1c1c1c" stroke="#1c1c1c" stroke-width="0.3" >100</text>
<rect x="471.2" y="86.27" width="15.6" height="50.23" fill="#222" stroke="none" stroke-width="0"/>
<rect x="493" y="82.25" width="13.6" height="54.25" fill="#cfcfd8" stroke="#111" stroke-width="1.9"/>
<line x1="479" y1="86.27" x2="479" y2="63.19" stroke="#111" stroke-width="1.7" />
<line x1="474.4" y1="63.19" x2="483.6" y2="63.19" stroke="#111" stroke-width="1.7" />
<line x1="499.8" y1="81.3" x2="499.8" y2="60.03" stroke="#111" stroke-width="1.7" />
<line x1="495.2" y1="60.03" x2="504.4" y2="60.03" stroke="#111" stroke-width="1.7" />
<text x="487.6" y="21.4" font-size="10.8" text-anchor="middle" fill="#1c1c1c" stroke="#1c1c1c" stroke-width="0.3" >Myeloid</text>
<text x="488.6" y="34.4" font-size="10.6" text-anchor="middle" fill="#1c1c1c" stroke="#1c1c1c" stroke-width="0.3" >(%)</text>
<text x="478.6" y="152.7" font-size="10" text-anchor="middle" fill="#1c1c1c" stroke="#1c1c1c" stroke-width="0.3" >+/+</text>
<text x="500.2" y="152.7" font-size="10" text-anchor="middle" fill="#1c1c1c" stroke="#1c1c1c" stroke-width="0.3" >Δ/Δ</text>
<line x1="391.5" y1="195.8" x2="391.5" y2="287" stroke="#111" stroke-width="1.7" />
<line x1="390.7" y1="286.3" x2="445.5" y2="286.3" stroke="#111" stroke-width="1.7" />
<line x1="388.9" y1="286.3" x2="391.5" y2="286.3" stroke="#111" stroke-width="1.4" />
<text x="386.3" y="289.2" font-size="8.8" text-anchor="end" fill="#1c1c1c" stroke="#1c1c1c" stroke-width="0.3" >0</text>
<line x1="388.9" y1="277.32" x2="391.5" y2="277.32" stroke="#111" stroke-width="1.4" />
<line x1="388.9" y1="268.34" x2="391.5" y2="268.34" stroke="#111" stroke-width="1.4" />
<text x="386.3" y="271.24" font-size="8.8" text-anchor="end" fill="#1c1c1c" stroke="#1c1c1c" stroke-width="0.3" >20</text>
<line x1="388.9" y1="259.36" x2="391.5" y2="259.36" stroke="#111" stroke-width="1.4" />
<line x1="388.9" y1="250.38" x2="391.5" y2="250.38" stroke="#111" stroke-width="1.4" />
<text x="386.3" y="253.28" font-size="8.8" text-anchor="end" fill="#1c1c1c" stroke="#1c1c1c" stroke-width="0.3" >40</text>
<line x1="388.9" y1="241.4" x2="391.5" y2="241.4" stroke="#111" stroke-width="1.4" />
<line x1="388.9" y1="232.42" x2="391.5" y2="232.42" stroke="#111" stroke-width="1.4" />
<text x="386.3" y="235.32" font-size="8.8" text-anchor="end" fill="#1c1c1c" stroke="#1c1c1c" stroke-width="0.3" >60</text>
<line x1="388.9" y1="223.44" x2="391.5" y2="223.44" stroke="#111" stroke-width="1.4" />
<line x1="388.9" y1="214.46" x2="391.5" y2="214.46" stroke="#111" stroke-width="1.4" />
<text x="386.3" y="217.36" font-size="8.8" text-anchor="end" fill="#1c1c1c" stroke="#1c1c1c" stroke-width="0.3" >80</text>
<line x1="388.9" y1="205.48" x2="391.5" y2="205.48" stroke="#111" stroke-width="1.4" />
<line x1="388.9" y1="196.5" x2="391.5" y2="196.5" stroke="#111" stroke-width="1.4" />
<text x="386.3" y="199.4" font-size="8.8" text-anchor="end" fill="#1c1c1c" stroke="#1c1c1c" stroke-width="0.3" >100</text>
<rect x="400" y="215" width="15.8" height="71.3" fill="#222" stroke="none" stroke-width="0"/>
<rect x="421.8" y="280.51" width="14" height="5.79" fill="#cfcfd8" stroke="#111" stroke-width="1.9"/>
<line x1="408" y1="215" x2="408" y2="205.03" stroke="#111" stroke-width="1.7" />
<line x1="403.4" y1="205.03" x2="412.6" y2="205.03" stroke="#111" stroke-width="1.7" />
<line x1="428.6" y1="279.56" x2="428.6" y2="266.99" stroke="#111" stroke-width="1.7" />
<line x1="424" y1="266.99" x2="433.2" y2="266.99" stroke="#111" stroke-width="1.7" />
<path d="M407.8,201.2 L407.8,194.8 L428.8,194.8 L428.8,261.3" fill="none" stroke="#111" stroke-width="1.7"/>
<text x="418" y="195.4" font-size="9.5" text-anchor="middle" fill="#111" stroke="#111" stroke-width="0.3" font-weight="bold" letter-spacing="1">**</text>
<text x="416.3" y="171.6" font-size="10.85" text-anchor="middle" fill="#1c1c1c" stroke="#1c1c1c" stroke-width="0.3" >B cell</text>
<text x="417.6" y="185" font-size="10.6" text-anchor="middle" fill="#1c1c1c" stroke="#1c1c1c" stroke-width="0.3" >(%)</text>
<text x="407.9" y="302" font-size="10" text-anchor="middle" fill="#1c1c1c" stroke="#1c1c1c" stroke-width="0.3" >+/+</text>
<text x="429.7" y="302" font-size="10" text-anchor="middle" fill="#1c1c1c" stroke="#1c1c1c" stroke-width="0.3" >Δ/Δ</text>
<line x1="465" y1="195.8" x2="465" y2="287" stroke="#111" stroke-width="1.7" />
<line x1="464.2" y1="286.3" x2="520.5" y2="286.3" stroke="#111" stroke-width="1.7" />
<line x1="462.4" y1="286.3" x2="465" y2="286.3" stroke="#111" stroke-width="1.4" />
<text x="459.8" y="289.2" font-size="8.8" text-anchor="end" fill="#1c1c1c" stroke="#1c1c1c" stroke-width="0.3" >0</text>
<line x1="462.4" y1="277.32" x2="465" y2="277.32" stroke="#111" stroke-width="1.4" />
<line x1="462.4" y1="268.34" x2="465" y2="268.34" stroke="#111" stroke-width="1.4" />
<text x="459.8" y="271.24" font-size="8.8" text-anchor="end" fill="#1c1c1c" stroke="#1c1c1c" stroke-width="0.3" >20</text>
<line x1="462.4" y1="259.36" x2="465" y2="259.36" stroke="#111" stroke-width="1.4" />
<line x1="462.4" y1="250.38" x2="465" y2="250.38" stroke="#111" stroke-width="1.4" />
<text x="459.8" y="253.28" font-size="8.8" text-anchor="end" fill="#1c1c1c" stroke="#1c1c1c" stroke-width="0.3" >40</text>
<line x1="462.4" y1="241.4" x2="465" y2="241.4" stroke="#111" stroke-width="1.4" />
<line x1="462.4" y1="232.42" x2="465" y2="232.42" stroke="#111" stroke-width="1.4" />
<text x="459.8" y="235.32" font-size="8.8" text-anchor="end" fill="#1c1c1c" stroke="#1c1c1c" stroke-width="0.3" >60</text>
<line x1="462.4" y1="223.44" x2="465" y2="223.44" stroke="#111" stroke-width="1.4" />
<line x1="462.4" y1="214.46" x2="465" y2="214.46" stroke="#111" stroke-width="1.4" />
<text x="459.8" y="217.36" font-size="8.8" text-anchor="end" fill="#1c1c1c" stroke="#1c1c1c" stroke-width="0.3" >80</text>
<line x1="462.4" y1="205.48" x2="465" y2="205.48" stroke="#111" stroke-width="1.4" />
<line x1="462.4" y1="196.5" x2="465" y2="196.5" stroke="#111" stroke-width="1.4" />
<text x="459.8" y="199.4" font-size="8.8" text-anchor="end" fill="#1c1c1c" stroke="#1c1c1c" stroke-width="0.3" >100</text>
<rect x="475" y="255.77" width="15.8" height="30.53" fill="#222" stroke="none" stroke-width="0"/>
<rect x="496.8" y="282.94" width="14.4" height="3.36" fill="#cfcfd8" stroke="#111" stroke-width="1.9"/>
<line x1="483.1" y1="255.77" x2="483.1" y2="244.09" stroke="#111" stroke-width="1.7" />
<line x1="478.5" y1="244.09" x2="487.7" y2="244.09" stroke="#111" stroke-width="1.7" />
<line x1="503.9" y1="281.99" x2="503.9" y2="274.99" stroke="#111" stroke-width="1.7" />
<line x1="499.3" y1="274.99" x2="508.5" y2="274.99" stroke="#111" stroke-width="1.7" />
<path d="M482.2,238.7 L482.2,231.9 L503.3,231.9 L503.3,270.3" fill="none" stroke="#111" stroke-width="1.7"/>
<text x="492.5" y="232.6" font-size="9.5" text-anchor="middle" fill="#111" stroke="#111" stroke-width="0.3" font-weight="bold" letter-spacing="1">**</text>
<text x="490" y="171.6" font-size="10.85" text-anchor="middle" fill="#1c1c1c" stroke="#1c1c1c" stroke-width="0.3" >T cell</text>
<text x="491" y="185" font-size="10.6" text-anchor="middle" fill="#1c1c1c" stroke="#1c1c1c" stroke-width="0.3" >(%)</text>
<text x="482.8" y="302" font-size="10" text-anchor="middle" fill="#1c1c1c" stroke="#1c1c1c" stroke-width="0.3" >+/+</text>
<text x="504.5" y="302" font-size="10" text-anchor="middle" fill="#1c1c1c" stroke="#1c1c1c" stroke-width="0.3" >Δ/Δ</text>
<line x1="24" y1="346.2" x2="194.6" y2="346.2" stroke="#111" stroke-width="1.4" />
<line x1="223.6" y1="346.2" x2="390.6" y2="346.2" stroke="#111" stroke-width="1.4" />
<text x="103.8" y="341.9" font-size="10.6" text-anchor="middle" fill="#1c1c1c" stroke="#1c1c1c" stroke-width="0.3" >Exp. 1</text>
<text x="301.9" y="341.9" font-size="10.6" text-anchor="middle" fill="#1c1c1c" stroke="#1c1c1c" stroke-width="0.3" >Exp. 2</text>
<line x1="25" y1="374.6" x2="25" y2="466.2" stroke="#111" stroke-width="1.7" />
<line x1="24.2" y1="465.5" x2="96.5" y2="465.5" stroke="#111" stroke-width="1.7" />
<line x1="22.4" y1="465.5" x2="25" y2="465.5" stroke="#111" stroke-width="1.4" />
<text x="19.8" y="468.4" font-size="8.8" text-anchor="end" fill="#1c1c1c" stroke="#1c1c1c" stroke-width="0.3" >0</text>
<line x1="22.4" y1="456.48" x2="25" y2="456.48" stroke="#111" stroke-width="1.4" />
<line x1="22.4" y1="447.46" x2="25" y2="447.46" stroke="#111" stroke-width="1.4" />
<text x="19.8" y="450.36" font-size="8.8" text-anchor="end" fill="#1c1c1c" stroke="#1c1c1c" stroke-width="0.3" >20</text>
<line x1="22.4" y1="438.44" x2="25" y2="438.44" stroke="#111" stroke-width="1.4" />
<line x1="22.4" y1="429.42" x2="25" y2="429.42" stroke="#111" stroke-width="1.4" />
<text x="19.8" y="432.32" font-size="8.8" text-anchor="end" fill="#1c1c1c" stroke="#1c1c1c" stroke-width="0.3" >40</text>
<line x1="22.4" y1="420.4" x2="25" y2="420.4" stroke="#111" stroke-width="1.4" />
<line x1="22.4" y1="411.38" x2="25" y2="411.38" stroke="#111" stroke-width="1.4" />
<text x="19.8" y="414.28" font-size="8.8" text-anchor="end" fill="#1c1c1c" stroke="#1c1c1c" stroke-width="0.3" >60</text>
<line x1="22.4" y1="402.36" x2="25" y2="402.36" stroke="#111" stroke-width="1.4" />
<line x1="22.4" y1="393.34" x2="25" y2="393.34" stroke="#111" stroke-width="1.4" />
<text x="19.8" y="396.24" font-size="8.8" text-anchor="end" fill="#1c1c1c" stroke="#1c1c1c" stroke-width="0.3" >80</text>
<line x1="22.4" y1="384.32" x2="25" y2="384.32" stroke="#111" stroke-width="1.4" />
<line x1="22.4" y1="375.3" x2="25" y2="375.3" stroke="#111" stroke-width="1.4" />
<text x="19.8" y="378.2" font-size="8.8" text-anchor="end" fill="#1c1c1c" stroke="#1c1c1c" stroke-width="0.3" >100</text>
<text x="62.8" y="361.8" font-size="10.6" text-anchor="middle" fill="#1c1c1c" stroke="#1c1c1c" stroke-width="0.3" >Total <tspan>(%)</tspan></text>
<rect x="29.3" y="390.63" width="14.5" height="74.87" fill="#222" stroke="none" stroke-width="0"/>
<rect x="44.4" y="402.41" width="11.3" height="63.09" fill="#fff" stroke="#111" stroke-width="1.9"/>
<line x1="50.05" y1="401.46" x2="50.05" y2="385.22" stroke="#111" stroke-width="1.7" />
<line x1="45.75" y1="385.22" x2="54.35" y2="385.22" stroke="#111" stroke-width="1.7" />
<rect x="62.5" y="445.66" width="13.8" height="19.84" fill="#222" stroke="none" stroke-width="0"/>
<rect x="76.9" y="433.08" width="11.8" height="32.42" fill="#fff" stroke="#111" stroke-width="1.9"/>
<line x1="82.8" y1="432.13" x2="82.8" y2="428.52" stroke="#111" stroke-width="1.7" />
<line x1="78.5" y1="428.52" x2="87.1" y2="428.52" stroke="#111" stroke-width="1.7" />
<text x="43.8" y="481.5" font-size="10" text-anchor="middle" fill="#1c1c1c" stroke="#1c1c1c" stroke-width="0.3" >+/+</text>
<text x="76.3" y="481.5" font-size="10" text-anchor="middle" fill="#1c1c1c" stroke="#1c1c1c" stroke-width="0.3" >Δ/Δ</text>
<path d="M49.7,380.1 L49.7,373.9 L81.7,373.9 L81.7,420.7" fill="none" stroke="#111" stroke-width="1.7"/>
<text x="66.3" y="374.4" font-size="9.5" text-anchor="middle" fill="#111" stroke="#111" stroke-width="0.3" font-weight="bold" letter-spacing="1">**</text>
<line x1="118.7" y1="374.6" x2="118.7" y2="466.2" stroke="#111" stroke-width="1.7" />
<line x1="117.9" y1="465.5" x2="190.3" y2="465.5" stroke="#111" stroke-width="1.7" />
<line x1="116.1" y1="465.5" x2="118.7" y2="465.5" stroke="#111" stroke-width="1.4" />
<text x="113.5" y="468.4" font-size="8.8" text-anchor="end" fill="#1c1c1c" stroke="#1c1c1c" stroke-width="0.3" >0</text>
<line x1="116.1" y1="456.48" x2="118.7" y2="456.48" stroke="#111" stroke-width="1.4" />
<line x1="116.1" y1="447.46" x2="118.7" y2="447.46" stroke="#111" stroke-width="1.4" />
<text x="113.5" y="450.36" font-size="8.8" text-anchor="end" fill="#1c1c1c" stroke="#1c1c1c" stroke-width="0.3" >20</text>
<line x1="116.1" y1="438.44" x2="118.7" y2="438.44" stroke="#111" stroke-width="1.4" />
<line x1="116.1" y1="429.42" x2="118.7" y2="429.42" stroke="#111" stroke-width="1.4" />
<text x="113.5" y="432.32" font-size="8.8" text-anchor="end" fill="#1c1c1c" stroke="#1c1c1c" stroke-width="0.3" >40</text>
<line x1="116.1" y1="420.4" x2="118.7" y2="420.4" stroke="#111" stroke-width="1.4" />
<line x1="116.1" y1="411.38" x2="118.7" y2="411.38" stroke="#111" stroke-width="1.4" />
<text x="113.5" y="414.28" font-size="8.8" text-anchor="end" fill="#1c1c1c" stroke="#1c1c1c" stroke-width="0.3" >60</text>
<line x1="116.1" y1="402.36" x2="118.7" y2="402.36" stroke="#111" stroke-width="1.4" />
<line x1="116.1" y1="393.34" x2="118.7" y2="393.34" stroke="#111" stroke-width="1.4" />
<text x="113.5" y="396.24" font-size="8.8" text-anchor="end" fill="#1c1c1c" stroke="#1c1c1c" stroke-width="0.3" >80</text>
<line x1="116.1" y1="384.32" x2="118.7" y2="384.32" stroke="#111" stroke-width="1.4" />
<line x1="116.1" y1="375.3" x2="118.7" y2="375.3" stroke="#111" stroke-width="1.4" />
<text x="113.5" y="378.2" font-size="8.8" text-anchor="end" fill="#1c1c1c" stroke="#1c1c1c" stroke-width="0.3" >100</text>
<text x="151.6" y="361.8" font-size="10.85" text-anchor="middle" fill="#1c1c1c" stroke="#1c1c1c" stroke-width="0.3" >Myeloid (%)</text>
<rect x="123.8" y="393.34" width="14.2" height="72.16" fill="#222" stroke="none" stroke-width="0"/>
<rect x="138.6" y="418.64" width="11.6" height="46.86" fill="#fff" stroke="#111" stroke-width="1.9"/>
<line x1="144.4" y1="417.69" x2="144.4" y2="387.93" stroke="#111" stroke-width="1.7" />
<line x1="140.1" y1="387.93" x2="148.7" y2="387.93" stroke="#111" stroke-width="1.7" />
<rect x="156.3" y="394.24" width="14.2" height="71.26" fill="#222" stroke="none" stroke-width="0"/>
<rect x="171.1" y="385.27" width="11.6" height="80.23" fill="#fff" stroke="#111" stroke-width="1.9"/>
<line x1="176.9" y1="384.32" x2="176.9" y2="382.52" stroke="#111" stroke-width="1.7" />
<line x1="172.6" y1="382.52" x2="181.2" y2="382.52" stroke="#111" stroke-width="1.7" />
<text x="137.5" y="481.5" font-size="10" text-anchor="middle" fill="#1c1c1c" stroke="#1c1c1c" stroke-width="0.3" >+/+</text>
<text x="169.5" y="481.5" font-size="10" text-anchor="middle" fill="#1c1c1c" stroke="#1c1c1c" stroke-width="0.3" >Δ/Δ</text>
<path d="M143,380.5 L143,373.9 L176.3,373.9 L176.3,381.3" fill="none" stroke="#111" stroke-width="1.7"/>
<text x="160" y="374.4" font-size="9.5" text-anchor="middle" fill="#111" stroke="#111" stroke-width="0.3" font-weight="bold" letter-spacing="1">*</text>
<line x1="225" y1="374.6" x2="225" y2="466.2" stroke="#111" stroke-width="1.7" />
<line x1="224.2" y1="465.5" x2="294.6" y2="465.5" stroke="#111" stroke-width="1.7" />
<line x1="222.4" y1="465.5" x2="225" y2="465.5" stroke="#111" stroke-width="1.4" />
<text x="219.8" y="468.4" font-size="8.8" text-anchor="end" fill="#1c1c1c" stroke="#1c1c1c" stroke-width="0.3" >0</text>
<line x1="222.4" y1="456.48" x2="225" y2="456.48" stroke="#111" stroke-width="1.4" />
<line x1="222.4" y1="447.46" x2="225" y2="447.46" stroke="#111" stroke-width="1.4" />
<text x="219.8" y="450.36" font-size="8.8" text-anchor="end" fill="#1c1c1c" stroke="#1c1c1c" stroke-width="0.3" >20</text>
<line x1="222.4" y1="438.44" x2="225" y2="438.44" stroke="#111" stroke-width="1.4" />
<line x1="222.4" y1="429.42" x2="225" y2="429.42" stroke="#111" stroke-width="1.4" />
<text x="219.8" y="432.32" font-size="8.8" text-anchor="end" fill="#1c1c1c" stroke="#1c1c1c" stroke-width="0.3" >40</text>
<line x1="222.4" y1="420.4" x2="225" y2="420.4" stroke="#111" stroke-width="1.4" />
<line x1="222.4" y1="411.38" x2="225" y2="411.38" stroke="#111" stroke-width="1.4" />
<text x="219.8" y="414.28" font-size="8.8" text-anchor="end" fill="#1c1c1c" stroke="#1c1c1c" stroke-width="0.3" >60</text>
<line x1="222.4" y1="402.36" x2="225" y2="402.36" stroke="#111" stroke-width="1.4" />
<line x1="222.4" y1="393.34" x2="225" y2="393.34" stroke="#111" stroke-width="1.4" />
<text x="219.8" y="396.24" font-size="8.8" text-anchor="end" fill="#1c1c1c" stroke="#1c1c1c" stroke-width="0.3" >80</text>
<line x1="222.4" y1="384.32" x2="225" y2="384.32" stroke="#111" stroke-width="1.4" />
<line x1="222.4" y1="375.3" x2="225" y2="375.3" stroke="#111" stroke-width="1.4" />
<text x="219.8" y="378.2" font-size="8.8" text-anchor="end" fill="#1c1c1c" stroke="#1c1c1c" stroke-width="0.3" >100</text>
<text x="264.5" y="361.8" font-size="10.6" text-anchor="middle" fill="#1c1c1c" stroke="#1c1c1c" stroke-width="0.3" >Total (%)</text>
<rect x="230.5" y="409.58" width="14.5" height="55.92" fill="#222" stroke="none" stroke-width="0"/>
<rect x="245.6" y="444.8" width="10.8" height="20.7" fill="#fff" stroke="#111" stroke-width="1.9"/>
<line x1="251" y1="443.85" x2="251" y2="425.81" stroke="#111" stroke-width="1.7" />
<line x1="246.7" y1="425.81" x2="255.3" y2="425.81" stroke="#111" stroke-width="1.7" />
<rect x="263.8" y="435.73" width="13.7" height="29.77" fill="#222" stroke="none" stroke-width="0"/>
<rect x="278.1" y="452.02" width="11.3" height="13.48" fill="#fff" stroke="#111" stroke-width="1.9"/>
<line x1="283.75" y1="451.07" x2="283.75" y2="444.75" stroke="#111" stroke-width="1.7" />
<line x1="279.45" y1="444.75" x2="288.05" y2="444.75" stroke="#111" stroke-width="1.7" />
<text x="245" y="481.5" font-size="10" text-anchor="middle" fill="#1c1c1c" stroke="#1c1c1c" stroke-width="0.3" >+/+</text>
<text x="278" y="481.5" font-size="10" text-anchor="middle" fill="#1c1c1c" stroke="#1c1c1c" stroke-width="0.3" >Δ/Δ</text>
<line x1="318" y1="374.6" x2="318" y2="466.2" stroke="#111" stroke-width="1.7" />
<line x1="317.2" y1="465.5" x2="387.2" y2="465.5" stroke="#111" stroke-width="1.7" />
<line x1="315.4" y1="465.5" x2="318" y2="465.5" stroke="#111" stroke-width="1.4" />
<text x="312.8" y="468.4" font-size="8.8" text-anchor="end" fill="#1c1c1c" stroke="#1c1c1c" stroke-width="0.3" >0</text>
<line x1="315.4" y1="456.48" x2="318" y2="456.48" stroke="#111" stroke-width="1.4" />
<line x1="315.4" y1="447.46" x2="318" y2="447.46" stroke="#111" stroke-width="1.4" />
<text x="312.8" y="450.36" font-size="8.8" text-anchor="end" fill="#1c1c1c" stroke="#1c1c1c" stroke-width="0.3" >20</text>
<line x1="315.4" y1="438.44" x2="318" y2="438.44" stroke="#111" stroke-width="1.4" />
<line x1="315.4" y1="429.42" x2="318" y2="429.42" stroke="#111" stroke-width="1.4" />
<text x="312.8" y="432.32" font-size="8.8" text-anchor="end" fill="#1c1c1c" stroke="#1c1c1c" stroke-width="0.3" >40</text>
<line x1="315.4" y1="420.4" x2="318" y2="420.4" stroke="#111" stroke-width="1.4" />
<line x1="315.4" y1="411.38" x2="318" y2="411.38" stroke="#111" stroke-width="1.4" />
<text x="312.8" y="414.28" font-size="8.8" text-anchor="end" fill="#1c1c1c" stroke="#1c1c1c" stroke-width="0.3" >60</text>
<line x1="315.4" y1="402.36" x2="318" y2="402.36" stroke="#111" stroke-width="1.4" />
<line x1="315.4" y1="393.34" x2="318" y2="393.34" stroke="#111" stroke-width="1.4" />
<text x="312.8" y="396.24" font-size="8.8" text-anchor="end" fill="#1c1c1c" stroke="#1c1c1c" stroke-width="0.3" >80</text>
<line x1="315.4" y1="384.32" x2="318" y2="384.32" stroke="#111" stroke-width="1.4" />
<line x1="315.4" y1="375.3" x2="318" y2="375.3" stroke="#111" stroke-width="1.4" />
<text x="312.8" y="378.2" font-size="8.8" text-anchor="end" fill="#1c1c1c" stroke="#1c1c1c" stroke-width="0.3" >100</text>
<text x="352.4" y="361.8" font-size="10.85" text-anchor="middle" fill="#1c1c1c" stroke="#1c1c1c" stroke-width="0.3" >Myeloid (%)</text>
<rect x="323" y="419.5" width="14" height="46" fill="#222" stroke="none" stroke-width="0"/>
<rect x="337.6" y="447.51" width="11.3" height="17.99" fill="#fff" stroke="#111" stroke-width="1.9"/>
<line x1="343.25" y1="446.56" x2="343.25" y2="412.28" stroke="#111" stroke-width="1.7" />
<line x1="338.95" y1="412.28" x2="347.55" y2="412.28" stroke="#111" stroke-width="1.7" />
<rect x="355.5" y="394.24" width="14" height="71.26" fill="#222" stroke="none" stroke-width="0"/>
<rect x="370.1" y="427.66" width="11.3" height="37.84" fill="#fff" stroke="#111" stroke-width="1.9"/>
<line x1="375.75" y1="426.71" x2="375.75" y2="415.89" stroke="#111" stroke-width="1.7" />
<line x1="371.45" y1="415.89" x2="380.05" y2="415.89" stroke="#111" stroke-width="1.7" />
<text x="337.5" y="481.5" font-size="10" text-anchor="middle" fill="#1c1c1c" stroke="#1c1c1c" stroke-width="0.3" >+/+</text>
<text x="369.5" y="481.5" font-size="10" text-anchor="middle" fill="#1c1c1c" stroke="#1c1c1c" stroke-width="0.3" >Δ/Δ</text>
<rect x="31.3" y="492.6" width="11.3" height="12" fill="#222" stroke="none" stroke-width="0"/>
<text x="45" y="501.8" font-size="10.6" text-anchor="start" fill="#1c1c1c" stroke="#1c1c1c" stroke-width="0.3" >1st BMT</text>
<rect x="104.4" y="493.2" width="9.4" height="12" fill="#fff" stroke="#111" stroke-width="1.3"/>
<text x="117.8" y="501.8" font-size="10.6" text-anchor="start" fill="#1c1c1c" stroke="#1c1c1c" stroke-width="0.3" >2nd BMT</text>
<line x1="451.8" y1="371.7" x2="451.8" y2="466.7" stroke="#111" stroke-width="1.7" />
<line x1="451" y1="466" x2="506.3" y2="466" stroke="#111" stroke-width="1.7" />
<line x1="449.2" y1="466" x2="451.8" y2="466" stroke="#111" stroke-width="1.4" />
<text x="446.6" y="468.9" font-size="8.8" text-anchor="end" fill="#1c1c1c" stroke="#1c1c1c" stroke-width="0.3" >0</text>
<line x1="449.2" y1="456.64" x2="451.8" y2="456.64" stroke="#111" stroke-width="1.4" />
<line x1="449.2" y1="447.28" x2="451.8" y2="447.28" stroke="#111" stroke-width="1.4" />
<text x="446.6" y="450.18" font-size="8.8" text-anchor="end" fill="#1c1c1c" stroke="#1c1c1c" stroke-width="0.3" >20</text>
<line x1="449.2" y1="437.92" x2="451.8" y2="437.92" stroke="#111" stroke-width="1.4" />
<line x1="449.2" y1="428.56" x2="451.8" y2="428.56" stroke="#111" stroke-width="1.4" />
<text x="446.6" y="431.46" font-size="8.8" text-anchor="end" fill="#1c1c1c" stroke="#1c1c1c" stroke-width="0.3" >40</text>
<line x1="449.2" y1="419.2" x2="451.8" y2="419.2" stroke="#111" stroke-width="1.4" />
<line x1="449.2" y1="409.84" x2="451.8" y2="409.84" stroke="#111" stroke-width="1.4" />
<text x="446.6" y="412.74" font-size="8.8" text-anchor="end" fill="#1c1c1c" stroke="#1c1c1c" stroke-width="0.3" >60</text>
<line x1="449.2" y1="400.48" x2="451.8" y2="400.48" stroke="#111" stroke-width="1.4" />
<line x1="449.2" y1="391.12" x2="451.8" y2="391.12" stroke="#111" stroke-width="1.4" />
<text x="446.6" y="394.02" font-size="8.8" text-anchor="end" fill="#1c1c1c" stroke="#1c1c1c" stroke-width="0.3" >80</text>
<line x1="449.2" y1="381.76" x2="451.8" y2="381.76" stroke="#111" stroke-width="1.4" />
<line x1="449.2" y1="372.4" x2="451.8" y2="372.4" stroke="#111" stroke-width="1.4" />
<text x="446.6" y="375.3" font-size="8.8" text-anchor="end" fill="#1c1c1c" stroke="#1c1c1c" stroke-width="0.3" >100</text>
<rect x="458" y="449.15" width="17" height="16.85" fill="#222" stroke="none" stroke-width="0"/>
<rect x="484.4" y="402.37" width="16.3" height="63.63" fill="#fff" stroke="#111" stroke-width="1.9"/>
<line x1="466.2" y1="449.15" x2="466.2" y2="438.86" stroke="#111" stroke-width="1.7" />
<line x1="461.3" y1="438.86" x2="471.1" y2="438.86" stroke="#111" stroke-width="1.7" />
<line x1="492.5" y1="401.42" x2="492.5" y2="388.31" stroke="#111" stroke-width="1.7" />
<line x1="487.6" y1="388.31" x2="497.4" y2="388.31" stroke="#111" stroke-width="1.7" />
<path d="M465.6,431.2 L465.6,378 L492.6,378 L492.6,388" fill="none" stroke="#111" stroke-width="1.7"/>
<text x="479.6" y="376.6" font-size="9.5" text-anchor="middle" fill="#111" stroke="#111" stroke-width="0.3" font-weight="bold" letter-spacing="1">**</text>
<text x="466.3" y="481.5" font-size="10" text-anchor="middle" fill="#1c1c1c" stroke="#1c1c1c" stroke-width="0.3" >+/+</text>
<text x="493.3" y="481.5" font-size="10" text-anchor="middle" fill="#1c1c1c" stroke="#1c1c1c" stroke-width="0.3" >Δ/Δ</text>
<text transform="translate(429.0,419.6) rotate(-90)" font-size="10.3" text-anchor="middle" fill="#1c1c1c" stroke="#1c1c1c" stroke-width="0.3">Chimerism in KSL cells (%)</text>
</svg>
</body></html>
